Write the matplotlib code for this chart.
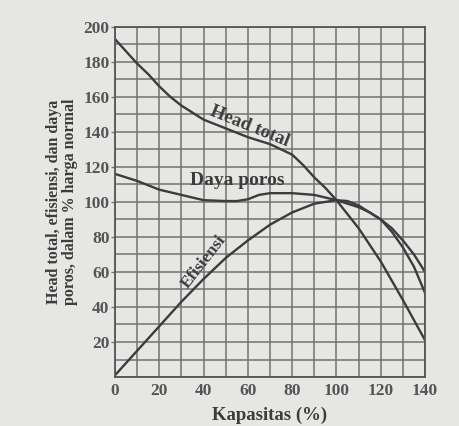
import numpy as np
import matplotlib.pyplot as plt

# values (percent of normal)
head_x = [0, 5, 10, 15, 20, 25, 30, 35, 40, 50, 60, 70, 75, 80, 85, 90, 95, 100, 105, 110, 120, 130, 140]
head_y = [193, 186, 179, 173, 166, 160, 155, 151, 147, 142, 137, 133, 130, 127, 121, 114, 108, 101, 93, 85, 66, 44, 21]

daya_x = [0, 10, 20, 30, 40, 50, 55, 60, 65, 70, 80, 90, 100, 110, 115, 120, 125, 130, 135, 140]
daya_y = [116, 112, 107, 104, 101, 100.5, 100.5, 101.5, 104, 105, 105, 104, 101, 97, 94, 90, 85, 78, 70, 60]

efis_x = [0, 10, 20, 30, 40, 50, 60, 70, 80, 90, 100, 105, 110, 120, 125, 130, 135, 140]
efis_y = [1, 15, 29, 43, 56, 68, 78, 87, 94, 99, 101, 100.5, 98, 90, 83, 74, 63, 48]

x_ticks = [0, 20, 40, 60, 80, 100, 120, 140]
y_ticks = [20, 40, 60, 80, 100, 120, 140, 160, 180, 200]

plt.rcParams['font.family'] = ['Liberation Serif', 'DejaVu Serif']
plt.rcParams['font.weight'] = 'bold'

bg = '#e6e6e4'
ink = '#3c3c3c'

fig = plt.figure(figsize=(4.6, 4.26), dpi=100, facecolor=bg)
ax = fig.add_axes([0.25, 0.115, 0.674, 0.822], facecolor=bg)

ax.set_xlim(0, 140)
ax.set_ylim(0, 200)
ax.set_xticks(np.arange(0, 141, 10), minor=True)
ax.set_yticks(np.arange(0, 201, 10), minor=True)
ax.set_xticks(x_ticks)
ax.set_yticks(y_ticks)
ax.grid(True, which='both', color='#727272', lw=1.1)
ax.set_axisbelow(True)
for s in ax.spines.values():
    s.set_color('#555555')
    s.set_linewidth(1.3)

ax.tick_params(which='both', length=0, colors='#555555', labelsize=12.5, pad=4)
ax.tick_params(axis='y', which='major', length=3, width=1, color='#777777', pad=1)

for xs, ys in [(head_x, head_y), (daya_x, daya_y), (efis_x, efis_y)]:
    ax.plot(xs, ys, color=ink, lw=1.7, solid_capstyle='round')

ax.text(61, 143, 'Head total', rotation=-22, ha='center', va='center',
        fontsize=13.5, fontweight='bold', color=ink)
ax.text(55, 112, 'Daya poros', ha='center', va='center',
        fontsize=14, fontweight='bold', color=ink)
ax.text(40, 66, 'Efisiensi', rotation=52, ha='center', va='center',
        fontsize=12.5, fontweight='bold', color=ink)

ax.set_xlabel('Kapasitas (%)', fontsize=13.5, fontweight='bold', color=ink, labelpad=6)
ax.set_ylabel('Head total, efisiensi, dan daya\nporos, dalam % harga normal',
              fontsize=11.5, fontweight='bold', color=ink, labelpad=4, linespacing=1.0)

fig.savefig('out.png', dpi=100, facecolor=bg)
